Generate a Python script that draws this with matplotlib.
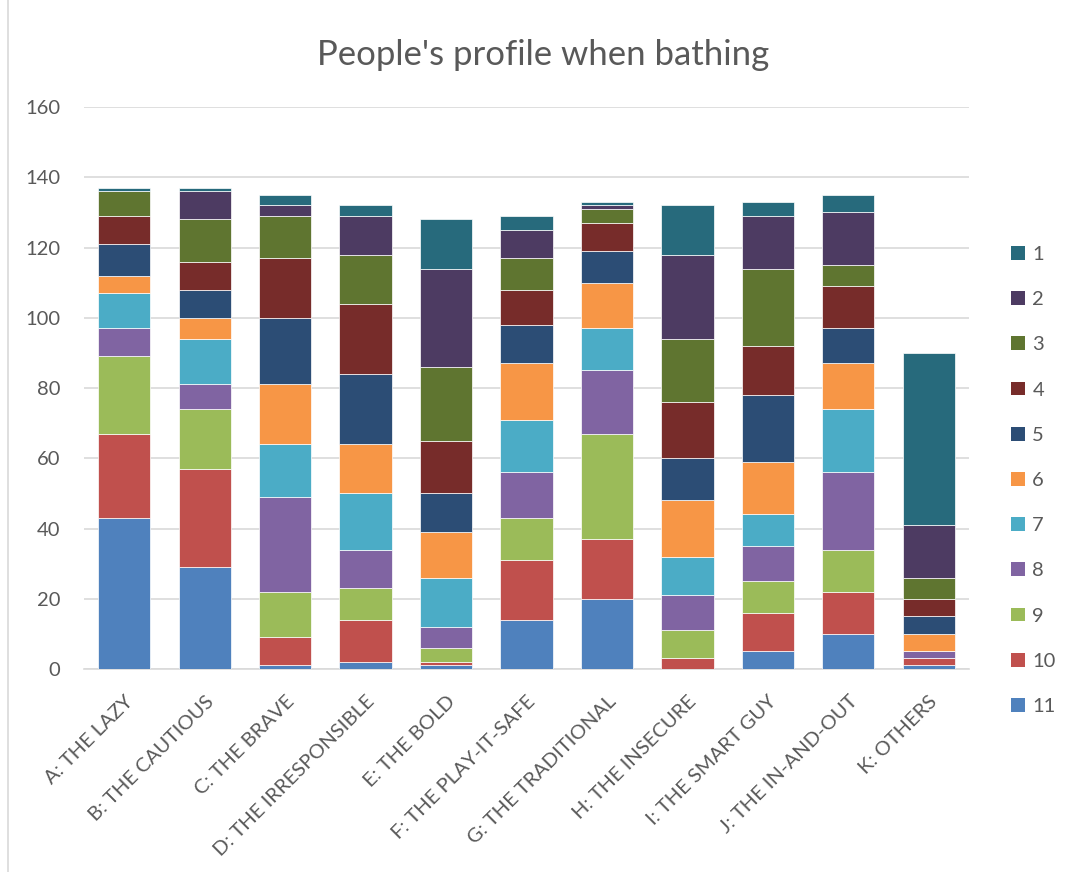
import matplotlib
matplotlib.use("Agg")
import matplotlib.pyplot as plt
import numpy as np
from matplotlib.patches import Patch
from matplotlib.lines import Line2D

plt.rcParams["font.family"] = ["Lato", "DejaVu Sans"]

categories = ["A: THE LAZY", "B: THE CAUTIOUS", "C: THE BRAVE", "D: THE IRRESPONSIBLE",
              "E: THE BOLD", "F: THE PLAY-IT-SAFE", "G: THE TRADITIONAL", "H: THE INSECURE",
              "I: THE SMART GUY", "J: THE IN-AND-OUT", "K: OTHERS"]

# Stacked from bottom (11) to top (1)
s11 = [43, 29, 1, 2, 1, 14, 20, 0, 5, 10, 1]
s10 = [24, 28, 8, 12, 1, 17, 17, 3, 11, 12, 2]
s9 = [22, 17, 13, 9, 4, 12, 30, 8, 9, 12, 0]
s8 = [8, 7, 27, 11, 6, 13, 18, 10, 10, 22, 2]
s7 = [10, 13, 15, 16, 14, 15, 12, 11, 9, 18, 0]
s6 = [5, 6, 17, 14, 13, 16, 13, 16, 15, 13, 5]
s5 = [9, 8, 19, 20, 11, 11, 9, 12, 19, 10, 5]
s4 = [8, 8, 17, 20, 15, 10, 8, 16, 14, 12, 5]
s3 = [7, 12, 12, 14, 21, 9, 4, 18, 22, 6, 6]
s2 = [0, 8, 3, 11, 28, 8, 1, 24, 15, 15, 15]
s1 = [1, 1, 3, 3, 14, 4, 1, 14, 4, 5, 49]

series_names = ["11", "10", "9", "8", "7", "6", "5", "4", "3", "2", "1"]
series_values = [s11, s10, s9, s8, s7, s6, s5, s4, s3, s2, s1]
colors = ["#4F81BD", "#C0504D", "#9BBB59", "#8064A2", "#4BACC6", "#F79646",
          "#2C4D75", "#772C2A", "#5F7530", "#4D3B62", "#276A7C"]

text_color = "#595959"

fig = plt.figure(figsize=(10.69, 8.72), dpi=100)
ax = fig.add_axes([84 / 1069, 1 - 669 / 872, (969 - 84) / 1069, (669 - 107) / 872])

x = np.arange(len(categories))
bottom = np.zeros(len(categories))
handles = []
for name, vals, col in zip(series_names, series_values, colors):
    vals = np.array(vals, dtype=float)
    ax.bar(x, vals, bottom=bottom, width=0.65, color=col, edgecolor="#FFFFFF",
           linewidth=0.5, zorder=3, label=name)
    bottom += vals
    handles.append(Patch(facecolor=col, edgecolor="none", label=name))

ax.set_xlim(-0.5, len(categories) - 0.5)
ax.set_ylim(0, 160)
ax.set_yticks(np.arange(0, 161, 20))
ax.grid(axis="y", color="#D9D9D9", linewidth=1.2, zorder=0)
ax.set_axisbelow(True)
for sp in ["top", "right", "left"]:
    ax.spines[sp].set_visible(False)
ax.spines["bottom"].set_color("#D9D9D9")
ax.spines["bottom"].set_linewidth(1.2)
ax.tick_params(axis="both", length=0, labelsize=14.5, labelcolor=text_color)
ax.tick_params(axis="y", pad=17)
ax.set_xticks(x)
ax.set_xticklabels(categories, rotation=45, ha="right", rotation_mode="anchor")
ax.tick_params(axis="x", pad=17)

fig.suptitle("People's profile when bathing", x=0.508, y=0.955, fontsize=25,
             color=text_color)

leg = fig.legend(handles[::-1], [h.get_label() for h in handles[::-1]],
                 loc="upper left", bbox_to_anchor=(1011 / 1069, 1 - 246 / 872),
                 frameon=False, fontsize=14.5, labelspacing=1.40,
                 handlelength=0.68, handleheight=0.68, handletextpad=0.38,
                 borderaxespad=0, borderpad=0)
for t in leg.get_texts():
    t.set_color(text_color)

# Chart-area border on the left edge
fig.add_artist(Line2D([8 / 1069, 8 / 1069], [0, 1], transform=fig.transFigure,
                      color="#D9D9D9", linewidth=1.2))

fig.savefig("out.png", dpi=100)
